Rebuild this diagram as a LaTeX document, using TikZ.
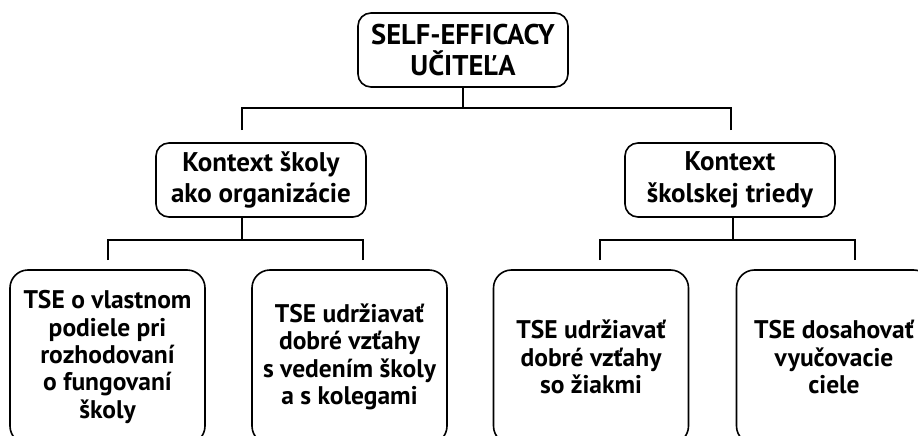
\documentclass[tikz,border=0pt]{standalone}
\usepackage{fontspec}
\setmainfont{PT Sans}
\usepackage{tikz}

\begin{document}
\begin{tikzpicture}[x=1pt, y=-1pt, line width=1.6pt,
	ctx node/.style={draw, rounded corners=13pt, align=center, inner sep=0pt,
		minimum width=210pt, minimum height=74pt, font=\fontsize{27}{31.5}\selectfont\bfseries},
	tse node/.style={draw, rounded corners=18pt, align=center, inner sep=0pt,
		minimum width=195pt, minimum height=174pt, font=\fontsize{25.5}{27.4}\selectfont\bfseries},
	link/.style={line width=1.6pt}]
	
	\clip (0,0) rectangle (918,436);
	
	\node[ctx node, font=\fontsize{28.5}{31.5}\selectfont\bfseries] (top) at (463,50) {SELF-EFFICACY\\UČITEĽA};
	\node[ctx node] (skola) at (261,180) {Kontext školy\\ako organizácie};
	\node[ctx node] (trieda) at (730,180) {Kontext\\školskej triedy};
	
	\node[tse node] (vlastny) at (107.5,357) {TSE o vlastnom\\podiele pri\\rozhodovaní\\o fungovaní\\školy};
	\node[tse node] (kolegovia) at (349.5,357) {TSE udržiavať\\dobré vzťahy\\s vedením školy\\a s kolegami};
	\node[tse node] (ziaci) at (591,357) {TSE udržiavať\\dobré vzťahy\\so žiakmi};
	\node[tse node] (ciele) at (834,357) {TSE dosahovať\\vyučovacie\\ciele};
	
	% line ends and bars
	\coordinate (barT) at (0,108);
	\coordinate (barB) at (0,240);
	\coordinate (endL) at (242,130);
	\coordinate (endR) at (731,130);
	\coordinate (end1) at (108,260);
	\coordinate (end2) at (363,260);
	\coordinate (end3) at (600,260);
	\coordinate (end4) at (855,260);
	
	\draw[link] (endL) |- (top.south |- barT) -- (top.south);
	\draw[link] (endR) |- (top.south |- barT);
	
	\draw[link] (end1) |- (endL |- barB) -- (skola.south -| endL);
	\draw[link] (end2) |- (endL |- barB);
	
	\draw[link] (end3) |- (733,240) -- (trieda.south -| 733,0);
	\draw[link] (end4) |- (733,240);
\end{tikzpicture}
\end{document}
